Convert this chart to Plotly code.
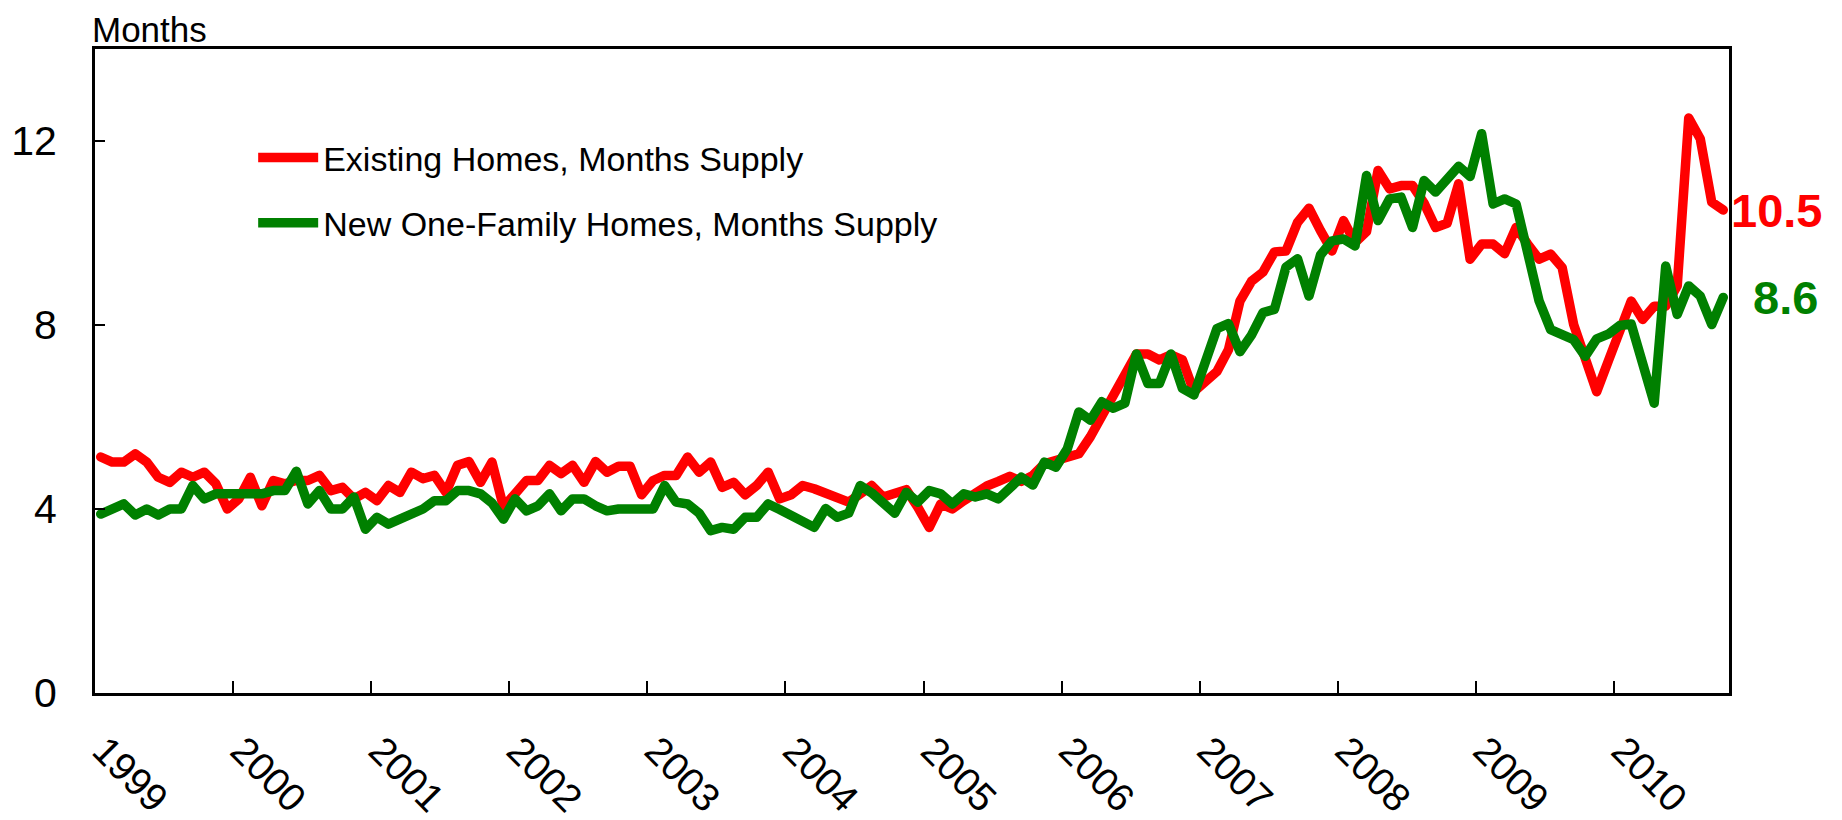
import pandas as pd
import plotly.graph_objects as go

# ---- data (monthly, Jan 1999 - Oct 2010) ----
months = [d.strftime("%Y-%m") for d in pd.date_range("1999-01-01", periods=142, freq="MS")]

existing_supply = [
    5.13, 5.02, 5.02, 5.20, 5.02, 4.69, 4.58, 4.80, 4.69, 4.80, 4.55, 4.00,
    4.22, 4.69, 4.07, 4.62, 4.55, 4.62, 4.62, 4.73, 4.40, 4.47, 4.22, 4.36,
    4.18, 4.51, 4.36, 4.80, 4.66, 4.73, 4.36, 4.95, 5.03, 4.58, 5.02, 4.04,
    4.33, 4.62, 4.62, 4.95, 4.77, 4.95, 4.58, 5.03, 4.80, 4.93, 4.93, 4.31,
    4.62, 4.73, 4.73, 5.13, 4.80, 5.02, 4.47, 4.58, 4.31, 4.51, 4.80, 4.22,
    4.31, 4.51, 4.44, 4.36, 4.26, 4.15, 4.33, 4.51, 4.26, 4.36, 4.42, 4.04,
    3.60, 4.11, 4.00, 4.18, 4.36, 4.50, 4.60, 4.71, 4.60, 4.73, 4.98, 5.06,
    5.11, 5.20, 5.57, 6.04, 6.48, 6.88, 7.37, 7.37, 7.24, 7.35, 7.24, 6.55,
    6.77, 6.99, 7.46, 8.52, 8.95, 9.15, 9.59, 9.61, 10.23, 10.54, 10.05, 9.61,
    10.27, 9.79, 10.03, 11.36, 10.96, 11.03, 11.03, 10.65, 10.12, 10.21, 11.07, 9.43,
    9.76, 9.76, 9.55, 10.12, 9.76, 9.43, 9.54, 9.25, 8.01, 7.21, 6.55, 7.21,
    7.86, 8.52, 8.12, 8.41, 8.41, 8.85, 12.50, 12.05, 10.67, 10.50,
]

new_supply = [
    3.89, 4.00, 4.11, 3.87, 4.00, 3.87, 4.00, 4.00, 4.51, 4.22, 4.33, 4.33,
    4.33, 4.33, 4.33, 4.40, 4.40, 4.82, 4.11, 4.40, 4.00, 4.00, 4.26, 3.56,
    3.82, 3.67, 3.78, 3.89, 4.00, 4.18, 4.18, 4.40, 4.40, 4.33, 4.13, 3.78,
    4.22, 3.96, 4.07, 4.33, 3.96, 4.22, 4.22, 4.07, 3.96, 4.00, 4.00, 4.00,
    4.00, 4.51, 4.15, 4.11, 3.91, 3.53, 3.60, 3.56, 3.82, 3.82, 4.11, 3.99,
    3.85, 3.71, 3.60, 4.01, 3.82, 3.91, 4.51, 4.35, 4.15, 3.91, 4.36, 4.15,
    4.40, 4.33, 4.11, 4.33, 4.26, 4.33, 4.22, 4.47, 4.69, 4.52, 5.02, 4.91,
    5.31, 6.11, 5.93, 6.33, 6.19, 6.30, 7.37, 6.73, 6.73, 7.37, 6.62, 6.48,
    7.28, 7.92, 8.03, 7.42, 7.78, 8.27, 8.34, 9.26, 9.44, 8.63, 9.52, 9.83,
    9.87, 9.72, 11.25, 10.27, 10.74, 10.78, 10.12, 11.14, 10.89, 11.20, 11.45, 11.23,
    12.16, 10.63, 10.74, 10.63, 9.54, 8.52, 7.90, 7.79, 7.68, 7.32, 7.70, 7.80,
    7.99, 8.02, 7.21, 6.30, 9.28, 8.23, 8.85, 8.63, 8.01, 8.60,
]

year_labels = [str(y) for y in range(1999, 2011)]
y_ticks = [0, 4, 8, 12]

series_names = ["Existing Homes, Months Supply", "New One-Family Homes, Months Supply"]
series_colors = ["#FF0000", "#008000"]

FONT = "Liberation Sans, Arial, sans-serif"

x_pos = list(range(len(months)))
year_tick_pos = [months.index(f"{y}-01") - 0.5 for y in range(1999, 2011)]

fig = go.Figure()
for name, vals, col, grp in zip(series_names, [existing_supply, new_supply], series_colors, ["a", "b"]):
    fig.add_trace(go.Scatter(
        x=x_pos, y=vals, mode="lines", name=name,
        line=dict(color=col, width=9.5),
        text=months, hovertemplate="%{text}: %{y}<extra></extra>",
        legendgroup=grp,
    ))

# page body has an 8px default margin, so the figure is 8px smaller than the window
fig.update_layout(
    width=1834, height=812,
    margin=dict(l=87, r=113, t=41, b=127, autoexpand=False),
    plot_bgcolor="white", paper_bgcolor="white",
    font=dict(family=FONT, color="black"),
    showlegend=True,
    legend=dict(
        x=0.0968, y=0.876, xanchor="left", yanchor="top",
        bgcolor="rgba(0,0,0,0)", borderwidth=0,
        font=dict(size=34, family=FONT, color="black"),
        tracegroupgap=18, itemwidth=60,
    ),
)

fig.update_xaxes(
    range=[-0.5, len(months) - 0.5], automargin=False,
    tickmode="array", tickvals=year_tick_pos, ticktext=year_labels,
    tickangle=45, ticks="inside", ticklen=12, tickwidth=1.5, tickcolor="black",
    showline=True, linecolor="black", linewidth=3, mirror=True,
    showgrid=False, zeroline=False,
    tickfont=dict(size=39, family=FONT, color="black"),
    ticklabelstandoff=16, ticklabelshift=9,
)
fig.update_yaxes(
    range=[0, 14], automargin=False,
    tickmode="array", tickvals=y_ticks, ticktext=[str(v) for v in y_ticks],
    ticks="inside", ticklen=10, tickwidth=1.5, tickcolor="black",
    showline=True, linecolor="black", linewidth=3, mirror=True,
    showgrid=False, zeroline=False,
    tickfont=dict(size=41, family=FONT, color="black"),
    ticklabelstandoff=27,
)

fig.add_annotation(
    text="Months", xref="paper", yref="paper", x=0.0, y=1.0, xshift=-4, yshift=20,
    xanchor="left", yanchor="middle", showarrow=False, borderpad=0,
    font=dict(size=35, family=FONT, color="black"),
)

last_vals = [existing_supply[-1], new_supply[-1]]
shifts = [0, 22]
for v, col, sh in zip(last_vals, series_colors, shifts):
    fig.add_annotation(
        text=f"{v:.1f}", xref="paper", yref="y", x=1.0, y=v, xshift=sh,
        xanchor="left", yanchor="middle", showarrow=False,
        font=dict(size=47, family=FONT, color=col, weight="bold"),
    )

post = """
document.querySelectorAll('.scatterlayer path.js-line').forEach(function(p){
  p.style.strokeLinejoin='round'; p.style.strokeLinecap='round';
});
"""
fig.write_html("out.html", post_script=post)
